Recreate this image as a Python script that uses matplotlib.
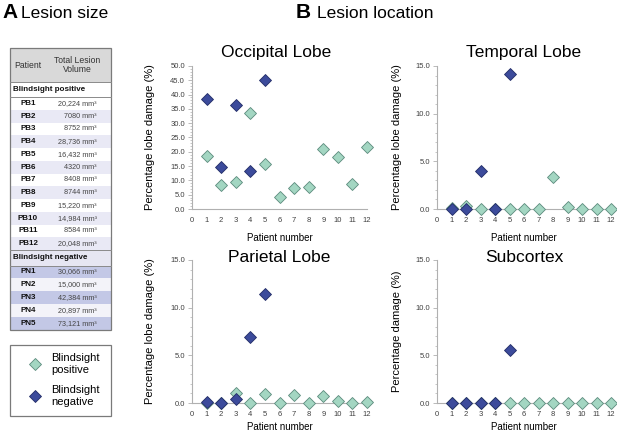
import matplotlib
matplotlib.use('Agg')
import matplotlib.pyplot as plt
from matplotlib.patches import Rectangle
from matplotlib.ticker import MultipleLocator, FormatStrFormatter
from matplotlib.lines import Line2D

plt.rcParams['font.family'] = ['Liberation Sans', 'DejaVu Sans']

# ---------------- data ----------------
pb_ids = ['PB1', 'PB2', 'PB3', 'PB4', 'PB5', 'PB6', 'PB7', 'PB8', 'PB9', 'PB10', 'PB11', 'PB12']
pb_vols = ['20,224', '7080', '8752', '28,736', '16,432', '4320', '8408', '8744', '15,220', '14,984', '8584', '20,048']
pn_ids = ['PN1', 'PN2', 'PN3', 'PN4', 'PN5']
pn_vols = ['30,066', '15,000', '42,384', '20,897', '73,121']

patients_pos = [1, 2, 3, 4, 5, 6, 7, 8, 9, 10, 11, 12]
patients_neg = [1, 2, 3, 4, 5]
x_ticks = [0, 1, 2, 3, 4, 5, 6, 7, 8, 9, 10, 11, 12]

occipital_pos = [18.7, 8.3, 9.3, 33.5, 15.9, 4.3, 7.3, 7.6, 21.1, 18.1, 8.6, 21.8]
occipital_neg = [38.6, 14.7, 36.2, 13.3, 45.0]
temporal_pos = [0.15, 0.35, 0.0, 0.0, 0.0, 0.0, 0.0, 3.4, 0.2, 0.05, 0.0, 0.05]
temporal_neg = [0.0, 0.0, 4.0, 0.0, 14.2]
parietal_pos = [0.05, 0.0, 1.0, 0.05, 0.9, 0.0, 0.8, 0.05, 0.7, 0.2, 0.0, 0.15]
parietal_neg = [0.1, 0.0, 0.45, 6.9, 11.4]
subcortex_pos = [0.0, 0.0, 0.0, 0.0, 0.0, 0.0, 0.0, 0.0, 0.0, 0.0, 0.0, 0.0]
subcortex_neg = [0.0, 0.0, 0.0, 0.0, 5.6]

# ---------------- styles ----------------
W, H = 617, 432
POS_FC, POS_EC = '#a3d6c2', '#5b8a7c'
NEG_FC, NEG_EC = '#3c4b9b', '#222c66'
SPINE = '#b0b0b0'
TICKC = '#404040'
MS = 6.0

fig = plt.figure(figsize=(W / 100, H / 100), dpi=100)
ov = fig.add_axes([0, 0, 1, 1])
ov.set_xlim(0, W)
ov.set_ylim(H, 0)
ov.axis('off')

# panel headings
ov.text(2, 13, 'A', fontsize=15, fontweight='bold', va='center', ha='left')
ov.text(21, 13, 'Lesion size', fontsize=12.5, va='center', ha='left')
ov.text(296, 13, 'B', fontsize=15, fontweight='bold', va='center', ha='left')
ov.text(317, 13, 'Lesion location', fontsize=12.5, va='center', ha='left')

# ---------------- table ----------------
tx0, tx1 = 10, 111
ov.add_patch(Rectangle((tx0, 48), tx1 - tx0, 34, fc='#d9d9d9', ec='none'))
ov.text(28, 65, 'Patient', fontsize=6.2, ha='center', va='center', color='#333333')
ov.text(77, 65, 'Total Lesion\nVolume', fontsize=6.2, ha='center', va='center',
        color='#333333', linespacing=1.0)
ov.text(13, 89.5, 'Blindsight positive', fontsize=5.8, fontweight='bold',
        ha='left', va='center', color='#111111')

rh = 12.75
top = 97.1
for i, (pid, vol) in enumerate(zip(pb_ids, pb_vols)):
    yt = top + i * rh
    if i % 2 == 1:
        ov.add_patch(Rectangle((tx0, yt), tx1 - tx0, rh, fc='#e9e9f5', ec='none'))
    ov.text(28, yt + rh / 2, pid, fontsize=5.8, fontweight='bold', ha='center', va='center', color='#111111')
    ov.text(97, yt + rh / 2, vol + ' mm\u00b3', fontsize=5.2, ha='right', va='center', color='#444444')
yneg = top + 12 * rh
ov.add_patch(Rectangle((tx0, yneg), tx1 - tx0, 15.4, fc='#e6e6f2', ec='none'))
ov.text(13, yneg + 7.7, 'Blindsight negative', fontsize=5.8, fontweight='bold',
        ha='left', va='center', color='#111111')
ptop = yneg + 15.4
prh = (330 - ptop) / 5
for i, (pid, vol) in enumerate(zip(pn_ids, pn_vols)):
    yt = ptop + i * prh
    fc = '#c3c8e6' if i % 2 == 0 else '#f3f3f9'
    ov.add_patch(Rectangle((tx0, yt), tx1 - tx0, prh, fc=fc, ec='none'))
    ov.text(28, yt + prh / 2, pid, fontsize=5.8, fontweight='bold', ha='center', va='center', color='#111111')
    ov.text(97, yt + prh / 2, vol + ' mm\u00b3', fontsize=5.2, ha='right', va='center', color='#444444')
for yl in [82, 97.1, yneg, ptop]:
    ov.plot([tx0, tx1], [yl, yl], color='#8a8a8a', lw=0.7)
ov.add_patch(Rectangle((tx0, 48), tx1 - tx0, 330 - 48, fc='none', ec='#7a7a7a', lw=0.9))

# legend box
ov.add_patch(Rectangle((tx0, 345), tx1 - tx0, 71, fc='none', ec='#7a7a7a', lw=0.9))
handles = [Line2D([], [], ls='none', marker='D', ms=MS, mfc=POS_FC, mec=POS_EC, mew=0.6),
           Line2D([], [], ls='none', marker='D', ms=MS, mfc=NEG_FC, mec=NEG_EC, mew=0.6)]
fig.legend(handles, ['Blindsight\npositive', 'Blindsight\nnegative'],
           loc='center left', bbox_to_anchor=(18 / W, 1 - 380 / H), frameon=False,
           fontsize=8, handlelength=1.2, handletextpad=0.9, labelspacing=0.9)


# ---------------- panels ----------------
def panel(rect, pos_vals, neg_vals, ymax, major, title, title_xy, ylabel, ylab_x, xlab_dy):
    x0, y0, x1, y1 = rect
    ax = fig.add_axes([x0 / W, 1 - y1 / H, (x1 - x0) / W, (y1 - y0) / H])
    ax.patch.set_alpha(0)
    ax.plot(patients_pos, pos_vals, ls='none', marker='D', ms=MS, mfc=POS_FC, mec=POS_EC,
            mew=0.6, clip_on=False, zorder=3)
    ax.plot(patients_neg, neg_vals, ls='none', marker='D', ms=MS, mfc=NEG_FC, mec=NEG_EC,
            mew=0.6, clip_on=False, zorder=4)
    ax.set_xlim(0, 12)
    ax.set_ylim(0, ymax)
    ax.set_xticks(x_ticks)
    ax.yaxis.set_major_locator(MultipleLocator(major))
    ax.yaxis.set_minor_locator(MultipleLocator(1))
    ax.yaxis.set_major_formatter(FormatStrFormatter('%.1f'))
    for s in ['top', 'right']:
        ax.spines[s].set_visible(False)
    for s in ['left', 'bottom']:
        ax.spines[s].set_color(SPINE)
        ax.spines[s].set_linewidth(0.8)
    ax.tick_params(axis='x', length=0, labelsize=5.5, colors=TICKC, pad=6)
    ax.tick_params(axis='y', which='major', length=3, width=0.6, color=SPINE,
                   labelsize=5.5, labelcolor=TICKC, pad=2)
    ax.tick_params(axis='y', which='minor', length=1.5, width=0.5, color=SPINE)
    ax.set_ylabel(ylabel, fontsize=8)
    ax.yaxis.set_label_coords(ylab_x, 0.5)
    ax.set_xlabel('Patient number', fontsize=7)
    ax.xaxis.set_label_coords(0.5, xlab_dy)
    ov.text(title_xy[0], title_xy[1], title, fontsize=12.5, ha='center', va='center')
    return ax


panel((192, 66, 367, 209), occipital_pos, occipital_neg, 50, 5, 'Occipital Lobe', (276, 53),
      'Percentage lobe damage (%)', -0.21, -0.17)
panel((437, 66, 611, 209), temporal_pos, temporal_neg, 15, 5, 'Temporal Lobe', (524, 53),
      'Percentage lobe damage (%)', -0.2, -0.17)
panel((192, 260, 367, 403), parietal_pos, parietal_neg, 15, 5, 'Parietal Lobe', (279, 258),
      'Percentage lobe damage (%)', -0.21, -0.135)
panel((437, 260, 611, 403), subcortex_pos, subcortex_neg, 15, 5, 'Subcortex', (524, 258),
      'Percentage damage (%)', -0.2, -0.135)

fig.savefig('out.png', dpi=100)
